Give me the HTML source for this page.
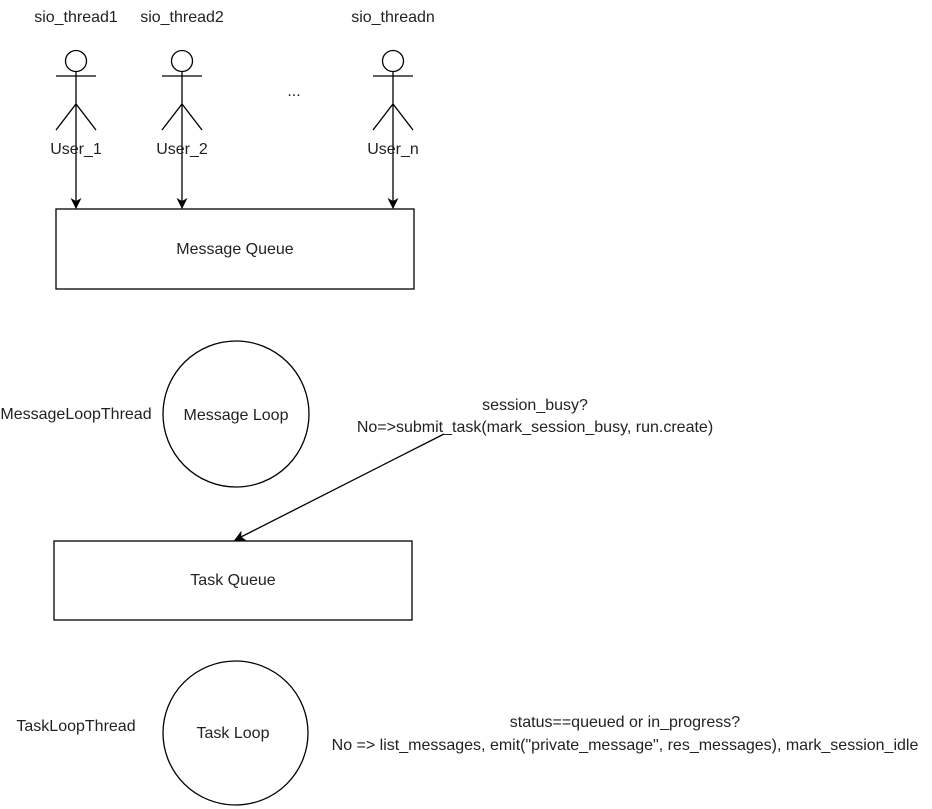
<!DOCTYPE html>
<html><head><style>body{margin:0;background:#fff}svg{display:block}text{font-family:"Liberation Sans",Arial,sans-serif;font-size:16px;fill:#222}</style></head>
<body>
<svg width="932" height="809" viewBox="0 0 932 809">
<defs><marker id="a" markerWidth="12" markerHeight="12" refX="10" refY="5.5" orient="auto" markerUnits="userSpaceOnUse"><path d="M0,0 L11,5.5 L0,11 L3,5.5 Z" fill="#000"/></marker></defs>
<g fill="none" stroke="#000" stroke-width="1.3">
<g id="act"><circle cx="76" cy="61" r="10.5"/><path d="M56,76 H96 M76,71.5 V104 M56,130 L76,104 L96,130"/></g>
<use href="#act" x="106"/>
<use href="#act" x="317"/>
<path d="M76,104 V208" marker-end="url(#a)"/>
<path d="M182,104 V208" marker-end="url(#a)"/>
<path d="M393,104 V208" marker-end="url(#a)"/>
<rect x="56" y="209" width="358" height="80"/>
<circle cx="236" cy="414" r="73"/>
<path d="M444,434 L235,540" marker-end="url(#a)"/>
<rect x="54" y="541" width="358" height="79"/>
<ellipse cx="235.5" cy="733" rx="72.5" ry="72"/>
</g>
<g text-anchor="middle">
<text x="76" y="22">sio_thread1</text>
<text x="182" y="22">sio_thread2</text>
<text x="393" y="22">sio_threadn</text>
<text x="294" y="96">...</text>
<text x="76" y="154">User_1</text>
<text x="182" y="154">User_2</text>
<text x="393" y="154">User_n</text>
<text x="235" y="254">Message Queue</text>
<text x="236" y="420">Message Loop</text>
<text x="76" y="419">MessageLoopThread</text>
<text x="535" y="410">session_busy?</text>
<text x="535" y="432">No=&gt;submit_task(mark_session_busy, run.create)</text>
<text x="233" y="585">Task Queue</text>
<text x="233" y="738">Task Loop</text>
<text x="76" y="731">TaskLoopThread</text>
<text x="625" y="727">status==queued or in_progress?</text>
<text x="625" y="750">No =&gt; list_messages, emit("private_message", res_messages), mark_session_idle</text>
</g>
</svg>
</body></html>
